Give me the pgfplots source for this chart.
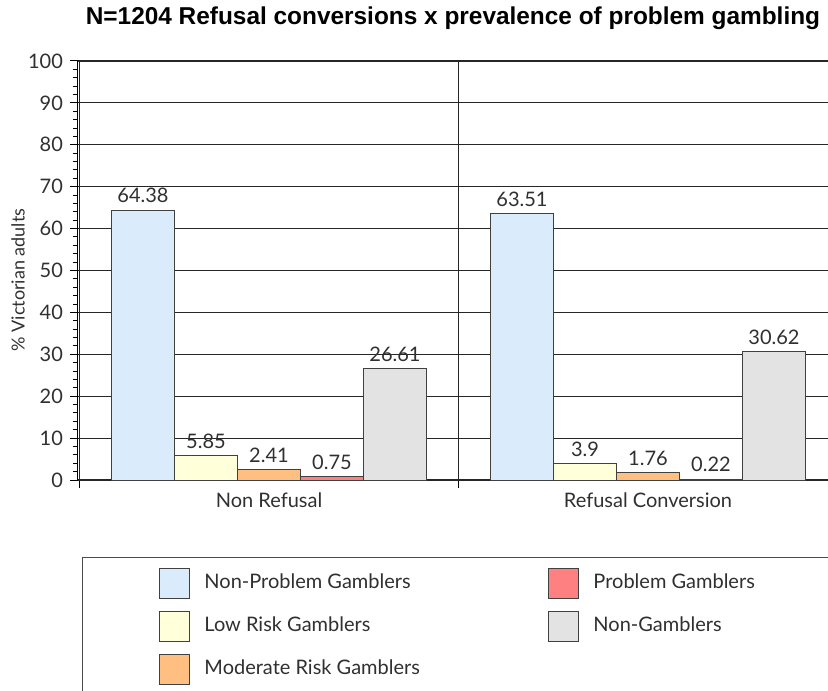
\documentclass[border=0pt]{standalone}
\usepackage{pgfplots}
\pgfplotsset{compat=1.18}
\usepackage{fontspec}
\setmainfont{Lato}
\newfontfamily\titlefont{Liberation Sans}
\definecolor{npg}{HTML}{DAEBFC}
\definecolor{lrg}{HTML}{FFFFD9}
\definecolor{mrg}{HTML}{FFBF80}
\definecolor{pg}{HTML}{FF8080}
\definecolor{ng}{HTML}{E3E3E3}
\definecolor{txt}{HTML}{303030}
\begin{document}
\begin{tikzpicture}
\begin{axis}[
  at={(0pt,0pt)}, anchor=south west,
  scale only axis, width=375pt, height=209.5pt,
  xmin=-0.504, xmax=1.475, ymin=0, ymax=100,
  axis x line=bottom, axis y line=left,
  axis line style={-},
  x axis line style={line width=1pt, black!85},
  y axis line style={line width=0.5pt, black},
  ytick={0,10,...,100}, minor y tick num=4,
  ymajorgrids, xmajorgrids,
  major grid style={black!85, line width=0.6pt},
  xtick={-0.5,0.5}, xticklabels={},
  extra x ticks={0,1},
  extra x tick labels={Non Refusal, Refusal Conversion},
  extra x tick style={major tick length=0pt, grid=none},
  tick align=outside, major tick length=4pt, minor tick length=2.5pt,
  tick style={black, line width=0.5pt},
  /pgf/number format/assume math mode=true,
  ticklabel style={font=\fontsize{10}{12}\selectfont, text=txt},
  xticklabel style={yshift=-3pt},
  ylabel={\% Victorian adults},
  every axis y label/.style={at={(axis description cs:-0.08,0.477)}, rotate=90, anchor=center, font=\fontsize{9}{11}\selectfont, text=txt},
  title={N=1204 Refusal conversions x prevalence of problem gambling},
  title style={at={(axis description cs:0.5,1)}, anchor=base, yshift=12pt, font=\titlefont\bfseries\fontsize{12.2}{14}\selectfont},
  ybar=0pt, bar width=31.5pt,
  every axis plot/.append style={draw=black!75, line width=0.5pt},
  nodes near coords={\pgfmathprintnumber[fixed,precision=2]{\pgfplotspointmeta}},
  nodes near coords style={font=\fontsize{10}{12}\selectfont, text=txt},
  legend image code/.code={\draw[#1, draw=black!75, line width=0.5pt] (0pt,-7.5pt) rectangle (15pt,7.5pt);},
  transpose legend, legend columns=3,
  legend cell align=left,
  legend style={at={(axis description cs:0.0053,-0.184)}, anchor=north west,
    draw=black!70, line width=0.5pt, inner xsep=38.5pt, inner ysep=5pt,
    row sep=6pt, column sep=0pt,
    nodes={inner sep=2pt},
    /tikz/every odd column/.append style={column sep=5pt},
    font=\fontsize{10}{12}\selectfont, text=txt},
]
\addplot[fill=npg] coordinates {(0,64.38) (1,63.51)};
\addlegendentry{\makebox[170pt][l]{Non-Problem Gamblers}}
\addplot[fill=lrg] coordinates {(0,5.85) (1,3.9)};
\addlegendentry{\makebox[170pt][l]{Low Risk Gamblers}}
\addplot[fill=mrg] coordinates {(0,2.41) (1,1.76)};
\addlegendentry{\makebox[170pt][l]{Moderate Risk Gamblers}}
\addplot[fill=pg] coordinates {(0,0.75) (1,0.22)};
\addlegendentry{\makebox[90pt][l]{Problem Gamblers}}
\addplot[fill=ng] coordinates {(0,26.61) (1,30.62)};
\addlegendentry{\makebox[90pt][l]{Non-Gamblers}}
\end{axis}
\pgfresetboundingbox
\useasboundingbox (-39pt,-105pt) rectangle (375pt,240pt);
\end{tikzpicture}
\end{document}
